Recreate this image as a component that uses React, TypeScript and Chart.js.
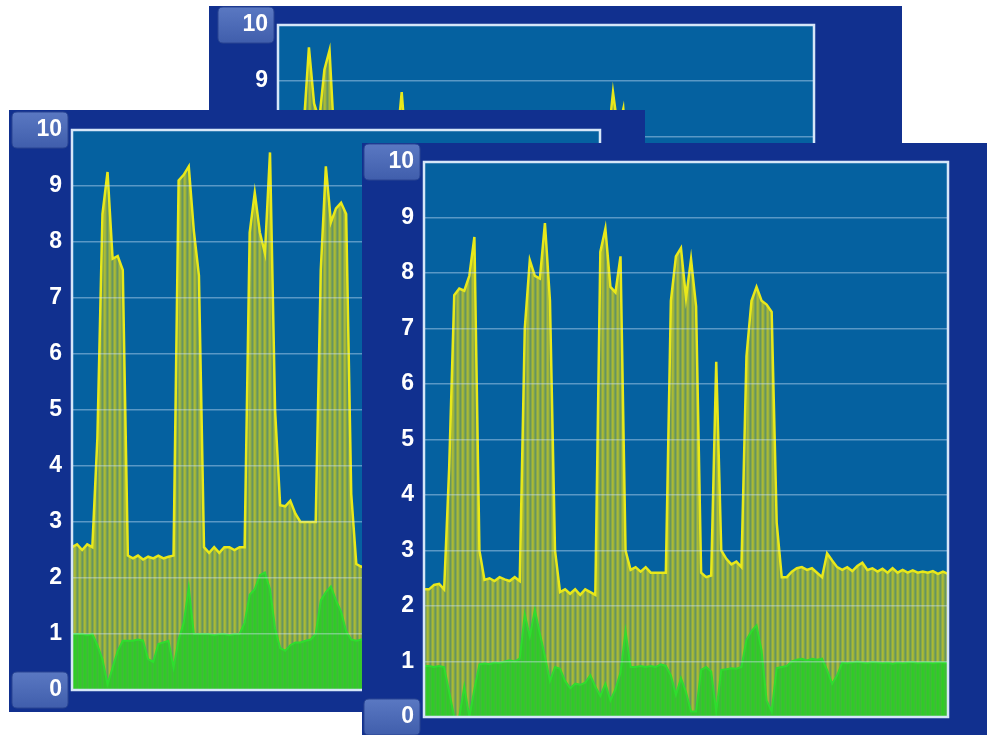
import React, { useEffect, useRef } from 'react';
import { Chart, registerables } from 'chart.js';

Chart.register(...registerables);

// ---- axis ticks ----
const yTickValues = [0, 1, 2, 3, 4, 5, 6, 7, 8, 9, 10];
const boxedTicks = [0, 10];

// ---- back panel (top, mostly hidden) ----
const backYellow = [
  2.5, 2.52, 2.48, 2.5, 5.0, 8.2, 9.6, 8.6, 8.3, 9.2,
  9.55, 7.8, 2.6, 2.45, 2.5, 2.42, 2.48, 2.45, 2.5, 2.45,
  2.48, 2.5, 6.5, 7.8, 8.8, 7.6, 7.4, 2.5, 2.45, 2.48,
  2.5, 2.46, 2.5, 2.48, 2.52, 2.5, 2.46, 2.5, 2.48, 2.5,
  2.52, 2.48, 2.5, 2.46, 2.5, 2.52, 2.48, 2.5, 2.46, 2.5,
  2.5, 2.48, 2.52, 2.5, 2.46, 2.5, 2.48, 2.5, 2.52, 2.48,
  2.5, 2.48, 2.52, 7.5, 7.9, 8.8, 8.1, 8.5, 7.2, 2.6,
  2.6, 2.62, 2.58, 2.6, 2.64, 2.6, 2.58, 2.62, 2.6, 2.6,
  2.63, 2.6, 2.58, 2.62, 2.6, 2.6, 2.64, 2.6, 2.58, 2.62,
  2.6, 2.6, 2.63, 2.6, 2.58, 2.62, 2.6, 2.6, 2.64, 2.6,
  2.58, 2.62, 2.6, 2.6, 2.6,
];
const backGreen = [
  1.0, 1.0, 0.98, 1.0, 0.8, 0.5, 0.1, 0.4, 0.7, 0.9,
  0.9, 0.6, 0.9, 0.92, 0.9, 0.92, 0.9, 0.95, 0.92, 0.9,
  0.9, 1.2, 1.6, 1.8, 1.5, 1.0, 0.9, 0.95, 0.92, 0.9,
  0.92, 0.9, 0.95, 0.92, 0.9, 0.92, 0.9, 0.95, 0.92, 0.9,
  0.92, 0.9, 0.95, 0.92, 0.9, 0.92, 0.9, 0.95, 0.92, 0.9,
  0.92, 0.9, 0.95, 0.92, 0.9, 0.92, 0.9, 0.95, 0.92, 0.9,
  0.92, 0.9, 1.1, 1.5, 1.7, 1.4, 0.8, 0.5, 0.9, 0.95,
  0.98, 1.0, 0.98, 0.97, 1.0, 0.98, 0.97, 1.0, 0.98, 0.97,
  1.0, 0.98, 0.97, 1.0, 0.98, 0.97, 1.0, 0.98, 0.97, 1.0,
  0.98, 0.97, 1.0, 0.98, 0.97, 1.0, 0.98, 0.97, 1.0, 0.98,
  0.97, 1.0, 0.98, 0.97, 1.0,
];

// ---- left panel (middle) ----
const leftYellow = [
  2.55, 2.6, 2.5, 2.6, 2.55, 4.5, 8.5, 9.25, 7.7, 7.75,
  7.5, 2.4, 2.35, 2.4, 2.33, 2.38, 2.35, 2.4, 2.35, 2.38,
  2.4, 9.1, 9.2, 9.35, 8.2, 7.4, 2.55, 2.45, 2.55, 2.45,
  2.55, 2.55, 2.5, 2.55, 2.55, 8.17, 8.88, 8.17, 7.8, 9.6,
  5.0, 3.3, 3.28, 3.38, 3.15, 3.0, 3.0, 3.0, 3.0, 7.5,
  9.35, 8.35, 8.6, 8.7, 8.5, 3.5, 2.25, 2.2, 2.25, 2.3,
  2.28, 2.32, 2.3, 2.35, 2.3, 2.28, 2.33, 2.3, 2.32, 2.28,
  2.3, 2.34, 2.3, 2.28, 2.32, 2.3, 2.35, 2.3, 2.28, 2.32,
  2.3, 2.33, 2.3, 2.28, 2.32, 2.3, 2.34, 2.3, 2.28, 2.32,
  2.3, 2.33, 2.3, 2.28, 2.32, 2.3, 2.34, 2.3, 2.28, 2.32,
  2.3, 2.33, 2.3, 2.28, 2.3,
];
const leftGreen = [
  1.0, 1.0, 1.0, 0.98, 1.0, 0.8, 0.55, 0.1, 0.4, 0.7,
  0.88, 0.88, 0.88, 0.9, 0.88, 0.55, 0.5, 0.82, 0.85, 0.88,
  0.4, 0.9, 1.2, 1.83, 1.0, 1.0, 1.0, 1.0, 0.98, 1.0,
  1.0, 0.98, 1.0, 1.0, 1.2, 1.7, 1.8, 2.05, 2.1, 1.8,
  1.1, 0.75, 0.7, 0.8, 0.85, 0.85, 0.88, 0.9, 1.0, 1.6,
  1.75, 1.85, 1.6, 1.4, 1.05, 0.9, 0.88, 0.9, 0.92, 0.95,
  0.96, 0.95, 0.97, 0.95, 0.96, 0.98, 0.95, 0.97, 0.96, 0.95,
  0.97, 0.96, 0.95, 0.98, 0.96, 0.95, 0.97, 0.96, 0.95, 0.97,
  0.96, 0.95, 0.98, 0.96, 0.95, 0.97, 0.96, 0.95, 0.97, 0.96,
  0.95, 0.98, 0.96, 0.95, 0.97, 0.96, 0.95, 0.97, 0.96, 0.95,
  0.98, 0.96, 0.95, 0.97, 0.96,
];

// ---- front panel (right) ----
const frontYellow = [
  2.3, 2.3, 2.38, 2.4, 2.3, 4.5, 7.6, 7.72, 7.68, 7.95,
  8.65, 3.0, 2.47, 2.5, 2.45, 2.52, 2.48, 2.45, 2.52, 2.45,
  7.0, 8.23, 7.95, 7.9, 8.9, 7.5, 3.0, 2.25, 2.3, 2.22,
  2.3, 2.2, 2.3, 2.25, 2.2, 8.38, 8.8, 7.75, 7.65, 8.3,
  3.0, 2.65, 2.7, 2.62, 2.7, 2.6, 2.6, 2.6, 2.6, 7.5,
  8.3, 8.45, 7.55, 8.25, 7.4, 2.6, 2.52, 2.55, 6.4, 3.0,
  2.85, 2.75, 2.8, 2.7, 6.5, 7.5, 7.75, 7.5, 7.43, 7.3,
  3.5, 2.52, 2.52, 2.62, 2.68, 2.7, 2.65, 2.68, 2.6, 2.52,
  2.95, 2.82, 2.7, 2.65, 2.7, 2.63, 2.72, 2.78, 2.65, 2.68,
  2.62, 2.67, 2.6, 2.68, 2.6, 2.65, 2.6, 2.64, 2.6, 2.62,
  2.6, 2.63, 2.58, 2.62, 2.58,
];
const frontGreen = [
  0.92, 0.92, 0.9, 0.92, 0.9, 0.45, 0.0, 0.0, 0.55, 0.0,
  0.5, 0.95, 0.97, 0.95, 0.98, 0.97, 1.0, 1.02, 1.0, 1.05,
  1.85, 1.45, 1.93, 1.5, 1.1, 0.65, 0.9, 0.87, 0.65, 0.52,
  0.6, 0.58, 0.62, 0.75, 0.55, 0.38, 0.6, 0.3, 0.5, 0.8,
  1.55, 0.9, 0.9, 0.92, 0.9, 0.92, 0.9, 0.95, 0.92, 0.75,
  0.4, 0.7, 0.45, 0.1, 0.1, 0.85, 0.9, 0.82, 0.1, 0.85,
  0.86, 0.88, 0.87, 0.9, 1.39, 1.55, 1.65, 1.2, 0.3, 0.1,
  0.88, 0.9, 0.92, 1.0, 1.03, 1.05, 1.02, 1.05, 1.03, 1.05,
  0.85, 0.6, 0.75, 0.98, 0.97, 0.98, 1.0, 0.98, 0.97, 0.99,
  0.98, 0.97, 0.98, 0.96, 0.98, 0.97, 0.98, 0.99, 0.97, 0.98,
  0.98, 0.97, 0.98, 0.98, 0.97,
];

const sampleLabels = frontYellow.map((_, i) => `t${i + 1}`);

const NAVY = '#11308f';
const PLOT_BG = '#0561a0';

function makeStripes(rgb: string, alphas: number[]) {
  const c = document.createElement('canvas');
  c.width = alphas.length;
  c.height = 1;
  const ctx = c.getContext('2d')!;
  alphas.forEach((a, i) => {
    ctx.fillStyle = `rgba(${rgb},${a})`;
    ctx.fillRect(i, 0, 1, 1);
  });
  return ctx.createPattern(c, 'repeat')!;
}

function roundRect(ctx: CanvasRenderingContext2D, x: number, y: number, w: number, h: number, r: number) {
  ctx.beginPath();
  ctx.moveTo(x + r, y);
  ctx.lineTo(x + w - r, y);
  ctx.quadraticCurveTo(x + w, y, x + w, y + r);
  ctx.lineTo(x + w, y + h - r);
  ctx.quadraticCurveTo(x + w, y + h, x + w - r, y + h);
  ctx.lineTo(x + r, y + h);
  ctx.quadraticCurveTo(x, y + h, x, y + h - r);
  ctx.lineTo(x, y + r);
  ctx.quadraticCurveTo(x, y, x + r, y);
  ctx.closePath();
}

const panelPlugin = {
  id: 'panelDeco',
  beforeDraw(chart: any) {
    const { ctx, chartArea: a } = chart;
    ctx.save();
    ctx.fillStyle = PLOT_BG;
    ctx.fillRect(a.left, a.top, a.right - a.left, a.bottom - a.top);
    const ys = chart.scales.y;
    boxedTicks.forEach((v) => {
      const py = ys.getPixelForValue(v);
      const bx = a.left - 60;
      const by = py - 18;
      const g = ctx.createLinearGradient(0, by, 0, by + 36);
      g.addColorStop(0, '#5a78c2');
      g.addColorStop(1, '#405eac');
      roundRect(ctx, bx, by, 56, 36, 5);
      ctx.fillStyle = g;
      ctx.fill();
      ctx.strokeStyle = '#2a4592';
      ctx.lineWidth = 1;
      ctx.stroke();
    });
    ctx.restore();
  },
  afterDraw(chart: any) {
    const { ctx, chartArea: a } = chart;
    ctx.save();
    ctx.strokeStyle = '#d6e6f8';
    ctx.lineWidth = 2.5;
    ctx.strokeRect(a.left, a.top, a.right - a.left, a.bottom - a.top);
    ctx.restore();
  },
};

type Spec = {
  left: number; top: number; width: number; height: number;
  axisWidth: number; padTop: number; padRight: number; padBottom: number;
  yellow: number[]; green: number[];
};

function Panel({ spec }: { spec: Spec }) {
  const ref = useRef<HTMLCanvasElement>(null);
  useEffect(() => {
    const canvas = ref.current!;
    const yellowFill = makeStripes('218,212,22', [0.78, 0.72, 0.56, 0.46, 0.62]);
    const greenFill = makeStripes('38,205,38', [0.95, 0.9, 0.74, 0.62, 0.78]);
    const chart = new Chart(canvas, {
      type: 'line',
      data: {
        labels: sampleLabels,
        datasets: [
          {
            label: 'green',
            data: spec.green,
            borderColor: '#2fdc2f',
            borderWidth: 2,
            backgroundColor: greenFill as any,
            fill: 'origin',
            pointRadius: 0,
            tension: 0,
          },
          {
            label: 'yellow',
            data: spec.yellow,
            borderColor: '#e8e81a',
            borderWidth: 2.5,
            backgroundColor: yellowFill as any,
            fill: 'origin',
            pointRadius: 0,
            tension: 0,
          },
        ],
      },
      options: {
        responsive: false,
        animation: false,
        devicePixelRatio: 1,
        layout: { padding: { top: spec.padTop, right: spec.padRight, bottom: spec.padBottom, left: 0 } },
        plugins: { legend: { display: false }, tooltip: { enabled: false } },
        scales: {
          x: { display: false },
          y: {
            min: 0,
            max: 10,
            afterFit: (s: any) => { s.width = spec.axisWidth; },
            afterBuildTicks: (s: any) => { s.ticks = yTickValues.map((v) => ({ value: v })); },
            border: { display: false },
            grid: {
              color: 'rgba(210,228,250,0.42)',
              lineWidth: 1.5,
              drawTicks: true,
              tickLength: 8,
              tickColor: 'rgba(0,0,0,0)',
              z: 1,
            },
            ticks: {
              color: '#ffffff',
              padding: 2,
              font: { family: '"Liberation Sans", Arial, sans-serif', size: 23, weight: 'bold' },
            },
          },
        },
      },
      plugins: [panelPlugin],
    } as any);
    return () => chart.destroy();
  }, []);
  return (
    <div style={{ position: 'absolute', left: spec.left, top: spec.top, width: spec.width, height: spec.height, background: NAVY, overflow: 'hidden' }}>
      <canvas ref={ref} width={spec.width} height={spec.height} style={{ display: 'block', width: spec.width, height: spec.height }} />
    </div>
  );
}

const backSpec: Spec = { left: 209, top: 6, width: 693, height: 601, axisWidth: 69, padTop: 19, padRight: 88, padBottom: 22, yellow: backYellow, green: backGreen };
const leftSpec: Spec = { left: 9, top: 110, width: 636, height: 602, axisWidth: 63, padTop: 20, padRight: 45, padBottom: 22, yellow: leftYellow, green: leftGreen };
const frontSpec: Spec = { left: 362, top: 143, width: 625, height: 592, axisWidth: 62, padTop: 19, padRight: 39, padBottom: 18, yellow: frontYellow, green: frontGreen };

export default function App() {
  return (
    <div style={{ position: 'fixed', left: 0, top: 0, width: 987, height: 735, background: '#ffffff', overflow: 'hidden' }}>
      <Panel spec={backSpec} />
      <Panel spec={leftSpec} />
      <Panel spec={frontSpec} />
    </div>
  );
}
